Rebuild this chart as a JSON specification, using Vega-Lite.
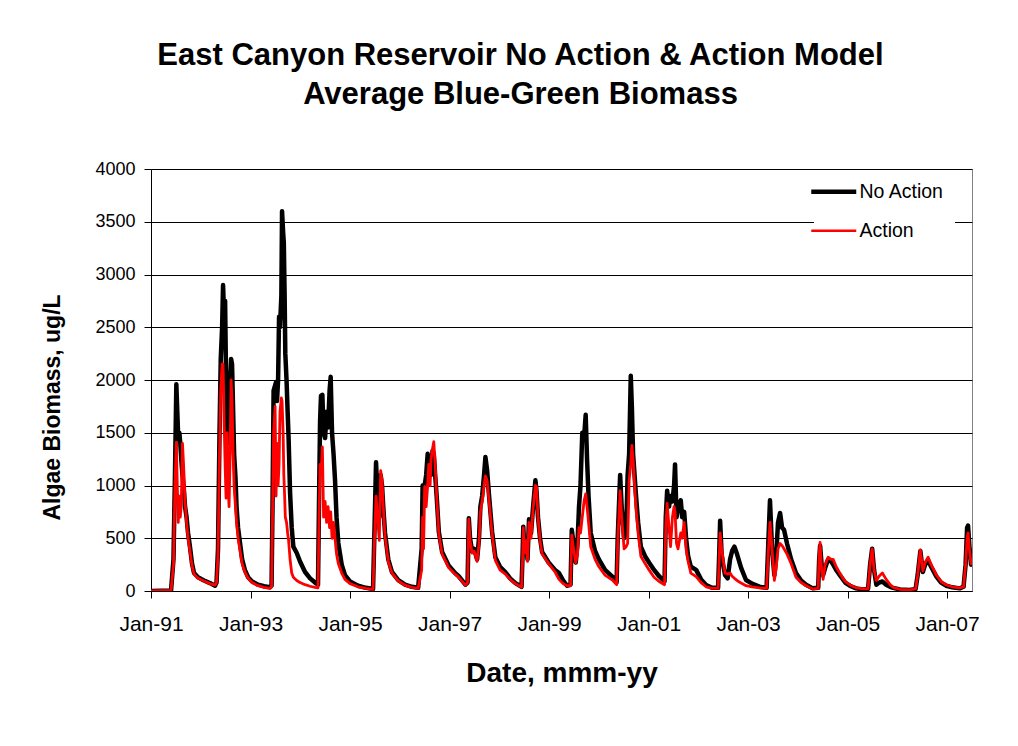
{
  "$schema": "https://vega.github.io/schema/vega-lite/v6.json",
  "width": 821,
  "height": 422,
  "autosize": {"type": "none"},
  "padding": {"left": 151, "top": 169, "right": 46, "bottom": 155},
  "background": "white",
  "config": {
    "font": "Liberation Sans",
    "view": {"stroke": "#808080", "strokeWidth": 1},
    "axis": {"labelColor": "black", "titleColor": "black", "tickColor": "black", "domainColor": "black", "labelFont": "Liberation Sans", "titleFont": "Liberation Sans"}
  },
  "title": {
    "text": ["East Canyon Reservoir No Action & Action Model", "Average Blue-Green Biomass"],
    "font": "Liberation Sans",
    "fontSize": 31,
    "fontWeight": "bold",
    "color": "black",
    "anchor": "middle",
    "dx": -41,
    "offset": 49,
    "lineHeight": 39
  },
  "data": {
    "values": [
      {"d": "1991-01-01", "n": 0, "a": 0},
      {"d": "1991-05-28", "n": 5, "a": 5},
      {"d": "1991-06-15", "n": 300, "a": 250},
      {"d": "1991-06-26", "n": 1100, "a": 1000},
      {"d": "1991-07-06", "n": 1960, "a": 1410},
      {"d": "1991-07-13", "n": 1700, "a": 1000},
      {"d": "1991-07-20", "n": 1450, "a": 650},
      {"d": "1991-07-28", "n": 1500, "a": 900},
      {"d": "1991-08-04", "n": 1400, "a": 700},
      {"d": "1991-08-11", "n": 1250, "a": 800},
      {"d": "1991-08-20", "n": 1100, "a": 1400},
      {"d": "1991-08-28", "n": 1000, "a": 1200},
      {"d": "1991-09-08", "n": 800, "a": 850},
      {"d": "1991-09-19", "n": 700, "a": 650},
      {"d": "1991-09-30", "n": 550, "a": 500},
      {"d": "1991-10-14", "n": 420, "a": 380},
      {"d": "1991-10-29", "n": 260, "a": 240},
      {"d": "1991-11-13", "n": 170, "a": 160},
      {"d": "1991-12-12", "n": 130, "a": 120},
      {"d": "1992-01-25", "n": 100, "a": 95},
      {"d": "1992-03-09", "n": 75, "a": 70},
      {"d": "1992-04-15", "n": 50, "a": 55},
      {"d": "1992-04-26", "n": 80, "a": 80},
      {"d": "1992-05-07", "n": 400, "a": 350},
      {"d": "1992-05-18", "n": 1500, "a": 1300},
      {"d": "1992-05-27", "n": 2200, "a": 1900},
      {"d": "1992-06-06", "n": 2500, "a": 2150},
      {"d": "1992-06-13", "n": 2900, "a": 2150},
      {"d": "1992-06-21", "n": 2600, "a": 1600},
      {"d": "1992-06-28", "n": 2750, "a": 1200},
      {"d": "1992-07-05", "n": 2000, "a": 880},
      {"d": "1992-07-13", "n": 1500, "a": 1500},
      {"d": "1992-07-20", "n": 1600, "a": 1000},
      {"d": "1992-07-27", "n": 1400, "a": 800},
      {"d": "1992-08-04", "n": 2000, "a": 1300},
      {"d": "1992-08-11", "n": 2200, "a": 2000},
      {"d": "1992-08-18", "n": 2150, "a": 1800},
      {"d": "1992-08-26", "n": 1700, "a": 1300},
      {"d": "1992-09-02", "n": 1300, "a": 1000},
      {"d": "1992-09-12", "n": 1080, "a": 800},
      {"d": "1992-09-20", "n": 800, "a": 650},
      {"d": "1992-10-01", "n": 600, "a": 500},
      {"d": "1992-10-16", "n": 450, "a": 380},
      {"d": "1992-10-31", "n": 300, "a": 260},
      {"d": "1992-11-20", "n": 200, "a": 180},
      {"d": "1992-12-14", "n": 130, "a": 120},
      {"d": "1993-01-12", "n": 90, "a": 80},
      {"d": "1993-02-25", "n": 60, "a": 50},
      {"d": "1993-04-10", "n": 45, "a": 35},
      {"d": "1993-05-24", "n": 35, "a": 25},
      {"d": "1993-06-04", "n": 50, "a": 40},
      {"d": "1993-06-11", "n": 800, "a": 700},
      {"d": "1993-06-19", "n": 1900, "a": 1500},
      {"d": "1993-06-30", "n": 1950, "a": 1750},
      {"d": "1993-07-07", "n": 1980, "a": 900},
      {"d": "1993-07-14", "n": 1800, "a": 1400},
      {"d": "1993-07-22", "n": 2000, "a": 1000},
      {"d": "1993-07-29", "n": 2600, "a": 1200},
      {"d": "1993-08-05", "n": 2500, "a": 1700},
      {"d": "1993-08-15", "n": 2800, "a": 1830},
      {"d": "1993-08-20", "n": 3600, "a": 1800},
      {"d": "1993-08-28", "n": 3400, "a": 1500},
      {"d": "1993-09-02", "n": 3300, "a": 1100},
      {"d": "1993-09-08", "n": 2800, "a": 900},
      {"d": "1993-09-13", "n": 2250, "a": 700},
      {"d": "1993-09-22", "n": 2000, "a": 650},
      {"d": "1993-09-30", "n": 1700, "a": 550},
      {"d": "1993-10-07", "n": 1450, "a": 480},
      {"d": "1993-10-18", "n": 930, "a": 300},
      {"d": "1993-10-30", "n": 600, "a": 170},
      {"d": "1993-11-11", "n": 420, "a": 130},
      {"d": "1993-12-06", "n": 360, "a": 100},
      {"d": "1993-12-30", "n": 280, "a": 80},
      {"d": "1994-02-05", "n": 180, "a": 60},
      {"d": "1994-03-14", "n": 120, "a": 45},
      {"d": "1994-04-19", "n": 80, "a": 35},
      {"d": "1994-05-11", "n": 60, "a": 30},
      {"d": "1994-05-19", "n": 900, "a": 700},
      {"d": "1994-05-26", "n": 1600, "a": 1200},
      {"d": "1994-06-02", "n": 1850, "a": 1100},
      {"d": "1994-06-12", "n": 1860, "a": 1365},
      {"d": "1994-06-21", "n": 1500, "a": 700},
      {"d": "1994-07-02", "n": 1450, "a": 850},
      {"d": "1994-07-13", "n": 1700, "a": 650},
      {"d": "1994-07-24", "n": 1550, "a": 800},
      {"d": "1994-08-04", "n": 1900, "a": 600},
      {"d": "1994-08-12", "n": 2030, "a": 750},
      {"d": "1994-08-22", "n": 1500, "a": 500},
      {"d": "1994-09-02", "n": 1300, "a": 650},
      {"d": "1994-09-13", "n": 1050, "a": 500},
      {"d": "1994-09-24", "n": 700, "a": 350},
      {"d": "1994-10-07", "n": 455, "a": 260},
      {"d": "1994-11-01", "n": 250, "a": 170},
      {"d": "1994-11-25", "n": 150, "a": 110},
      {"d": "1995-01-01", "n": 90, "a": 70},
      {"d": "1995-03-01", "n": 50, "a": 40},
      {"d": "1995-04-28", "n": 30, "a": 25},
      {"d": "1995-06-19", "n": 20, "a": 15},
      {"d": "1995-06-30", "n": 600, "a": 500},
      {"d": "1995-07-11", "n": 1220, "a": 900},
      {"d": "1995-07-22", "n": 900, "a": 700},
      {"d": "1995-08-04", "n": 700, "a": 480},
      {"d": "1995-08-14", "n": 1100, "a": 1140},
      {"d": "1995-08-24", "n": 1000, "a": 1050},
      {"d": "1995-09-02", "n": 800, "a": 800},
      {"d": "1995-09-15", "n": 550, "a": 520},
      {"d": "1995-10-09", "n": 300, "a": 280},
      {"d": "1995-11-05", "n": 180, "a": 170},
      {"d": "1995-12-21", "n": 104, "a": 95},
      {"d": "1996-02-09", "n": 60, "a": 55},
      {"d": "1996-03-30", "n": 40, "a": 35},
      {"d": "1996-05-15", "n": 30, "a": 25},
      {"d": "1996-06-10", "n": 400, "a": 200},
      {"d": "1996-06-17", "n": 1000, "a": 700},
      {"d": "1996-06-24", "n": 800, "a": 400},
      {"d": "1996-07-02", "n": 1000, "a": 990},
      {"d": "1996-07-13", "n": 1100, "a": 800},
      {"d": "1996-07-24", "n": 1300, "a": 1000},
      {"d": "1996-08-01", "n": 1250, "a": 1200},
      {"d": "1996-08-11", "n": 1200, "a": 1000},
      {"d": "1996-08-18", "n": 1100, "a": 1250},
      {"d": "1996-08-29", "n": 1330, "a": 1350},
      {"d": "1996-09-07", "n": 1300, "a": 1415},
      {"d": "1996-09-17", "n": 1100, "a": 1200},
      {"d": "1996-09-28", "n": 900, "a": 900},
      {"d": "1996-10-14", "n": 560, "a": 540},
      {"d": "1996-11-07", "n": 370, "a": 350},
      {"d": "1996-12-26", "n": 240, "a": 220},
      {"d": "1997-02-10", "n": 170, "a": 160},
      {"d": "1997-03-09", "n": 140, "a": 130},
      {"d": "1997-04-27", "n": 60, "a": 55},
      {"d": "1997-05-13", "n": 80, "a": 80},
      {"d": "1997-05-22", "n": 690, "a": 680},
      {"d": "1997-05-31", "n": 500, "a": 480},
      {"d": "1997-06-15", "n": 380, "a": 360},
      {"d": "1997-06-30", "n": 400, "a": 380},
      {"d": "1997-07-22", "n": 300, "a": 280},
      {"d": "1997-08-05", "n": 500, "a": 450},
      {"d": "1997-08-15", "n": 800, "a": 750},
      {"d": "1997-08-28", "n": 900, "a": 850},
      {"d": "1997-09-11", "n": 1100, "a": 1000},
      {"d": "1997-09-21", "n": 1270, "a": 1090},
      {"d": "1997-10-03", "n": 1150, "a": 1050},
      {"d": "1997-10-18", "n": 900, "a": 850},
      {"d": "1997-11-09", "n": 560, "a": 540},
      {"d": "1997-12-03", "n": 320, "a": 290},
      {"d": "1998-01-06", "n": 230, "a": 200},
      {"d": "1998-02-14", "n": 180, "a": 160},
      {"d": "1998-03-21", "n": 120, "a": 110},
      {"d": "1998-04-29", "n": 75, "a": 70},
      {"d": "1998-06-13", "n": 40, "a": 35},
      {"d": "1998-06-21", "n": 350, "a": 300},
      {"d": "1998-06-26", "n": 610, "a": 600},
      {"d": "1998-07-04", "n": 380, "a": 360},
      {"d": "1998-07-16", "n": 500, "a": 480},
      {"d": "1998-07-27", "n": 300, "a": 280},
      {"d": "1998-08-07", "n": 680, "a": 650},
      {"d": "1998-08-22", "n": 550, "a": 500},
      {"d": "1998-09-06", "n": 800, "a": 780},
      {"d": "1998-09-23", "n": 1050, "a": 1000},
      {"d": "1998-10-01", "n": 950, "a": 990},
      {"d": "1998-10-12", "n": 700, "a": 700},
      {"d": "1998-10-27", "n": 500, "a": 480},
      {"d": "1998-11-11", "n": 370, "a": 350},
      {"d": "1998-12-29", "n": 270, "a": 260},
      {"d": "1999-02-14", "n": 200, "a": 180},
      {"d": "1999-03-15", "n": 170, "a": 110},
      {"d": "1999-04-14", "n": 100, "a": 70},
      {"d": "1999-05-13", "n": 50, "a": 50},
      {"d": "1999-06-08", "n": 60, "a": 50},
      {"d": "1999-06-17", "n": 580, "a": 530},
      {"d": "1999-06-30", "n": 450, "a": 400},
      {"d": "1999-07-16", "n": 270, "a": 270},
      {"d": "1999-07-29", "n": 450, "a": 350},
      {"d": "1999-08-09", "n": 800, "a": 600},
      {"d": "1999-08-20", "n": 1000, "a": 550},
      {"d": "1999-09-02", "n": 1500, "a": 700},
      {"d": "1999-09-15", "n": 1450, "a": 850},
      {"d": "1999-09-27", "n": 1670, "a": 920},
      {"d": "1999-10-07", "n": 1250, "a": 800},
      {"d": "1999-10-18", "n": 900, "a": 650},
      {"d": "1999-11-03", "n": 550, "a": 420},
      {"d": "1999-12-05", "n": 380, "a": 300},
      {"d": "2000-01-02", "n": 300, "a": 230},
      {"d": "2000-02-16", "n": 200, "a": 150},
      {"d": "2000-04-10", "n": 136, "a": 104},
      {"d": "2000-05-11", "n": 80, "a": 60},
      {"d": "2000-05-19", "n": 500, "a": 450},
      {"d": "2000-06-06", "n": 1100, "a": 950},
      {"d": "2000-06-17", "n": 800, "a": 700},
      {"d": "2000-07-05", "n": 500, "a": 400},
      {"d": "2000-07-20", "n": 550, "a": 420},
      {"d": "2000-07-31", "n": 1100, "a": 450},
      {"d": "2000-08-11", "n": 1300, "a": 1050},
      {"d": "2000-08-23", "n": 2040, "a": 1200},
      {"d": "2000-08-31", "n": 1750, "a": 1380},
      {"d": "2000-09-09", "n": 1300, "a": 1250},
      {"d": "2000-09-29", "n": 930, "a": 800},
      {"d": "2000-10-16", "n": 650, "a": 550},
      {"d": "2000-11-05", "n": 420, "a": 330},
      {"d": "2000-12-06", "n": 330, "a": 260},
      {"d": "2001-01-04", "n": 270, "a": 200},
      {"d": "2001-02-10", "n": 200, "a": 130},
      {"d": "2001-03-19", "n": 140, "a": 90},
      {"d": "2001-04-28", "n": 90, "a": 60},
      {"d": "2001-05-07", "n": 700, "a": 600},
      {"d": "2001-05-17", "n": 950, "a": 830},
      {"d": "2001-05-31", "n": 800, "a": 600},
      {"d": "2001-06-11", "n": 900, "a": 420},
      {"d": "2001-06-25", "n": 850, "a": 700},
      {"d": "2001-07-07", "n": 1000, "a": 800},
      {"d": "2001-07-14", "n": 1200, "a": 750},
      {"d": "2001-07-25", "n": 700, "a": 450},
      {"d": "2001-08-05", "n": 800, "a": 400},
      {"d": "2001-08-25", "n": 860, "a": 550},
      {"d": "2001-09-04", "n": 700, "a": 500},
      {"d": "2001-09-19", "n": 750, "a": 650},
      {"d": "2001-10-03", "n": 500, "a": 400},
      {"d": "2001-10-18", "n": 330, "a": 280},
      {"d": "2001-11-07", "n": 230, "a": 170},
      {"d": "2001-12-16", "n": 200, "a": 136},
      {"d": "2002-01-21", "n": 110, "a": 80},
      {"d": "2002-02-27", "n": 57, "a": 40},
      {"d": "2002-04-12", "n": 30, "a": 25},
      {"d": "2002-05-26", "n": 30, "a": 25},
      {"d": "2002-06-02", "n": 300, "a": 250},
      {"d": "2002-06-10", "n": 665, "a": 550},
      {"d": "2002-06-21", "n": 350, "a": 400},
      {"d": "2002-07-02", "n": 250, "a": 300},
      {"d": "2002-07-16", "n": 150, "a": 170},
      {"d": "2002-08-04", "n": 120, "a": 160},
      {"d": "2002-08-22", "n": 300, "a": 170},
      {"d": "2002-09-06", "n": 380, "a": 140},
      {"d": "2002-09-23", "n": 420, "a": 120},
      {"d": "2002-10-12", "n": 350, "a": 100},
      {"d": "2002-11-11", "n": 220, "a": 75},
      {"d": "2002-12-17", "n": 104, "a": 50},
      {"d": "2003-01-30", "n": 70, "a": 40},
      {"d": "2003-03-25", "n": 41, "a": 30},
      {"d": "2003-05-17", "n": 30, "a": 25},
      {"d": "2003-05-31", "n": 500, "a": 400},
      {"d": "2003-06-11", "n": 860, "a": 650},
      {"d": "2003-06-26", "n": 400, "a": 400},
      {"d": "2003-07-13", "n": 150, "a": 100},
      {"d": "2003-07-25", "n": 300, "a": 200},
      {"d": "2003-08-09", "n": 650, "a": 400},
      {"d": "2003-08-24", "n": 740, "a": 450},
      {"d": "2003-09-08", "n": 600, "a": 430},
      {"d": "2003-09-22", "n": 580, "a": 400},
      {"d": "2003-10-14", "n": 450, "a": 350},
      {"d": "2003-11-13", "n": 300, "a": 260},
      {"d": "2003-12-19", "n": 170, "a": 130},
      {"d": "2004-01-25", "n": 100, "a": 80},
      {"d": "2004-03-02", "n": 60, "a": 50},
      {"d": "2004-04-20", "n": 25, "a": 20},
      {"d": "2004-05-30", "n": 30, "a": 25},
      {"d": "2004-06-06", "n": 300, "a": 350},
      {"d": "2004-06-13", "n": 430, "a": 460},
      {"d": "2004-06-24", "n": 250, "a": 200},
      {"d": "2004-07-05", "n": 150, "a": 110},
      {"d": "2004-07-20", "n": 220, "a": 250},
      {"d": "2004-08-11", "n": 300, "a": 320},
      {"d": "2004-09-02", "n": 280, "a": 300},
      {"d": "2004-09-17", "n": 250, "a": 300},
      {"d": "2004-10-09", "n": 200, "a": 230},
      {"d": "2004-11-05", "n": 150, "a": 167},
      {"d": "2004-12-14", "n": 80, "a": 90},
      {"d": "2005-01-17", "n": 50, "a": 57},
      {"d": "2005-03-04", "n": 25, "a": 30},
      {"d": "2005-04-25", "n": 15, "a": 20},
      {"d": "2005-05-31", "n": 20, "a": 20},
      {"d": "2005-06-15", "n": 250, "a": 250},
      {"d": "2005-06-30", "n": 400, "a": 400},
      {"d": "2005-07-14", "n": 200, "a": 200},
      {"d": "2005-07-31", "n": 60, "a": 100},
      {"d": "2005-08-20", "n": 80, "a": 140},
      {"d": "2005-09-13", "n": 90, "a": 170},
      {"d": "2005-10-11", "n": 60, "a": 110},
      {"d": "2005-11-09", "n": 40, "a": 60},
      {"d": "2005-12-01", "n": 30, "a": 35},
      {"d": "2006-01-21", "n": 15, "a": 15},
      {"d": "2006-04-02", "n": 10, "a": 10},
      {"d": "2006-05-15", "n": 20, "a": 20},
      {"d": "2006-05-30", "n": 150, "a": 150},
      {"d": "2006-06-19", "n": 380, "a": 390},
      {"d": "2006-07-07", "n": 180, "a": 190},
      {"d": "2006-07-24", "n": 250, "a": 270},
      {"d": "2006-08-15", "n": 290, "a": 320},
      {"d": "2006-09-06", "n": 230, "a": 250},
      {"d": "2006-10-15", "n": 136, "a": 150},
      {"d": "2006-11-18", "n": 80, "a": 90},
      {"d": "2006-12-27", "n": 50, "a": 57},
      {"d": "2007-02-07", "n": 35, "a": 40},
      {"d": "2007-04-04", "n": 25, "a": 30},
      {"d": "2007-05-02", "n": 40, "a": 40},
      {"d": "2007-05-17", "n": 250, "a": 250},
      {"d": "2007-05-28", "n": 600, "a": 500},
      {"d": "2007-06-04", "n": 620, "a": 550},
      {"d": "2007-06-15", "n": 400, "a": 380},
      {"d": "2007-06-26", "n": 250, "a": 260},
      {"d": "2007-07-03", "n": 260, "a": 260}
    ]
  },
  "encoding": {
    "x": {
      "field": "d",
      "type": "temporal",
      "scale": {"domain": [{"year": 1991, "month": 1, "date": 1}, {"year": 2007, "month": 7, "date": 3}]},
      "axis": {
        "values": [
          {"year": 1991, "month": 1, "date": 1},
          {"year": 1993, "month": 1, "date": 1},
          {"year": 1995, "month": 1, "date": 1},
          {"year": 1997, "month": 1, "date": 1},
          {"year": 1999, "month": 1, "date": 1},
          {"year": 2001, "month": 1, "date": 1},
          {"year": 2003, "month": 1, "date": 1},
          {"year": 2005, "month": 1, "date": 1},
          {"year": 2007, "month": 1, "date": 1}
        ],
        "format": "%b-%y",
        "grid": false,
        "tickSize": 7,
        "labelPadding": 15,
        "labelFontSize": 21,
        "labelFlush": false,
        "labelOverlap": false,
        "title": "Date, mmm-yy",
        "titleFontSize": 28,
        "titleFontWeight": "bold",
        "titleY": 90,
        "titleBaseline": "alphabetic"
      }
    }
  },
  "layer": [
    {
      "mark": {"type": "line", "strokeWidth": 4.5, "strokeJoin": "round", "clip": true},
      "encoding": {
        "y": {
          "field": "n",
          "type": "quantitative",
          "scale": {"domain": [0, 4000]},
          "axis": {
            "values": [0, 500, 1000, 1500, 2000, 2500, 3000, 3500, 4000],
            "grid": true,
            "gridColor": "black",
            "gridWidth": 1,
            "gridOpacity": 1,
            "tickSize": 7,
            "labelPadding": 9,
            "labelFontSize": 18,
            "format": "d",
            "title": "Algae Biomass, ug/L",
            "titleFontSize": 23,
            "titleFontWeight": "bold",
            "titleX": -92,
            "titleY": 238,
            "titleAngle": -90,
            "titleAlign": "center",
            "titleBaseline": "alphabetic"
          }
        },
        "color": {
          "datum": "No Action",
          "type": "nominal",
          "scale": {"domain": ["No Action", "Action"], "range": ["#000000", "#ff0000"]},
          "legend": {
            "title": null,
            "orient": "none",
            "legendX": 663,
            "legendY": 3,
            "fillColor": "white",
            "padding": 10,
            "symbolType": "stroke",
            "symbolSize": 2025,
            "rowPadding": 18,
            "labelFontSize": 19.5,
            "labelColor": "black",
            "labelOffset": 16,
            "encode": {"symbols": {"update": {"strokeWidth": {"signal": "datum.value === 'No Action' ? 4.5 : 2.5"}}}}
          }
        }
      }
    },
    {
      "mark": {"type": "line", "strokeWidth": 2.8, "strokeJoin": "round", "clip": true},
      "encoding": {
        "y": {"field": "a", "type": "quantitative"},
        "color": {"datum": "Action", "type": "nominal"}
      }
    }
  ]
}
